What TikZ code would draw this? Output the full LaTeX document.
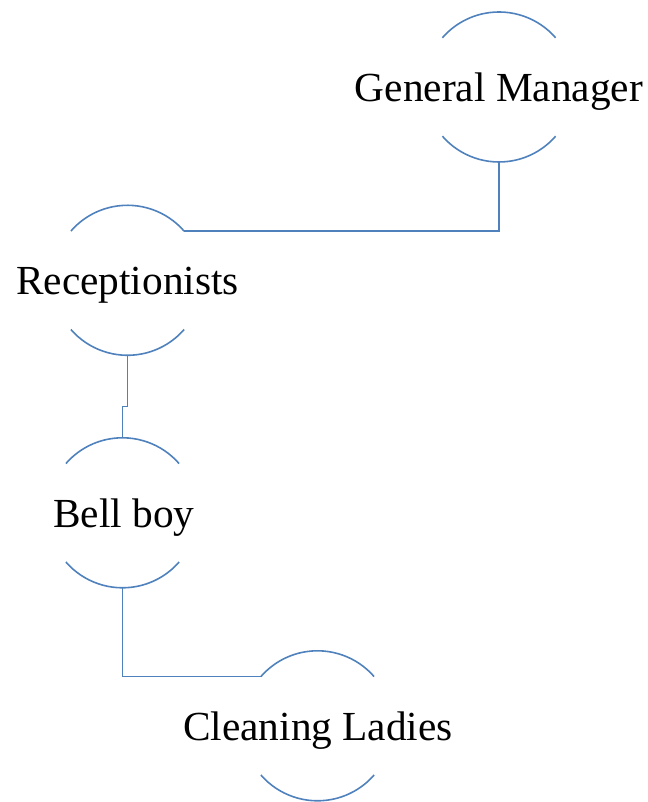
\documentclass[tikz,border=0pt]{standalone}
\usepackage{fontspec}
\setmainfont{Liberation Serif}
\usetikzlibrary{calc}
\definecolor{linkblue}{HTML}{4F81BD}
\tikzset{
  ring/.style={circle, minimum size=112.5pt, inner sep=0pt, outer sep=0pt},
  lbl/.style={anchor=base, inner sep=0pt, font=\fontsize{31}{36}\selectfont, text=black},
  arcline/.style={draw=linkblue, line width=1.2pt},
  link/.style={draw=linkblue, line width=1.2pt}
}
\newcommand{\halfrings}[1]{%
  \draw[arcline] (#1.41) arc[start angle=41, end angle=139, radius=56.25pt];
  \draw[arcline] (#1.-139) arc[start angle=-139, end angle=-41, radius=56.25pt];
}
\begin{document}
\begin{tikzpicture}[x=0.75pt, y=0.75pt]
\useasboundingbox (0,0) rectangle (648,802);
\node[ring] (gm) at (499,715) {};
\node[ring] (rc) at (127.5,521.7) {};
\node[ring] (bb) at (122.5,289.2) {};
\node[ring] (cl) at (317.5,76.2) {};
\coordinate (j) at (122.5,395.3);
\halfrings{gm}
\halfrings{rc}
\halfrings{bb}
\halfrings{cl}
\node[lbl] (gmt) at ($(gm)+(0,-14.5)$) {General Manager};
\node[lbl] (rct) at ($(rc)+(0,-14.5)$) {Receptionists};
\node[lbl] (bbt) at ($(bb)+(1.5,-14.5)$) {Bell boy};
\node[lbl] (clt) at ($(cl)+(0.5,-14.5)$) {Cleaning Ladies};
\draw[link] (gm.south) |- (rc.41);
\draw[link] (rc.south) |- (j) -- (bb.north);
\draw[link] (bb.south) |- (cl.139);
\end{tikzpicture}
\end{document}
